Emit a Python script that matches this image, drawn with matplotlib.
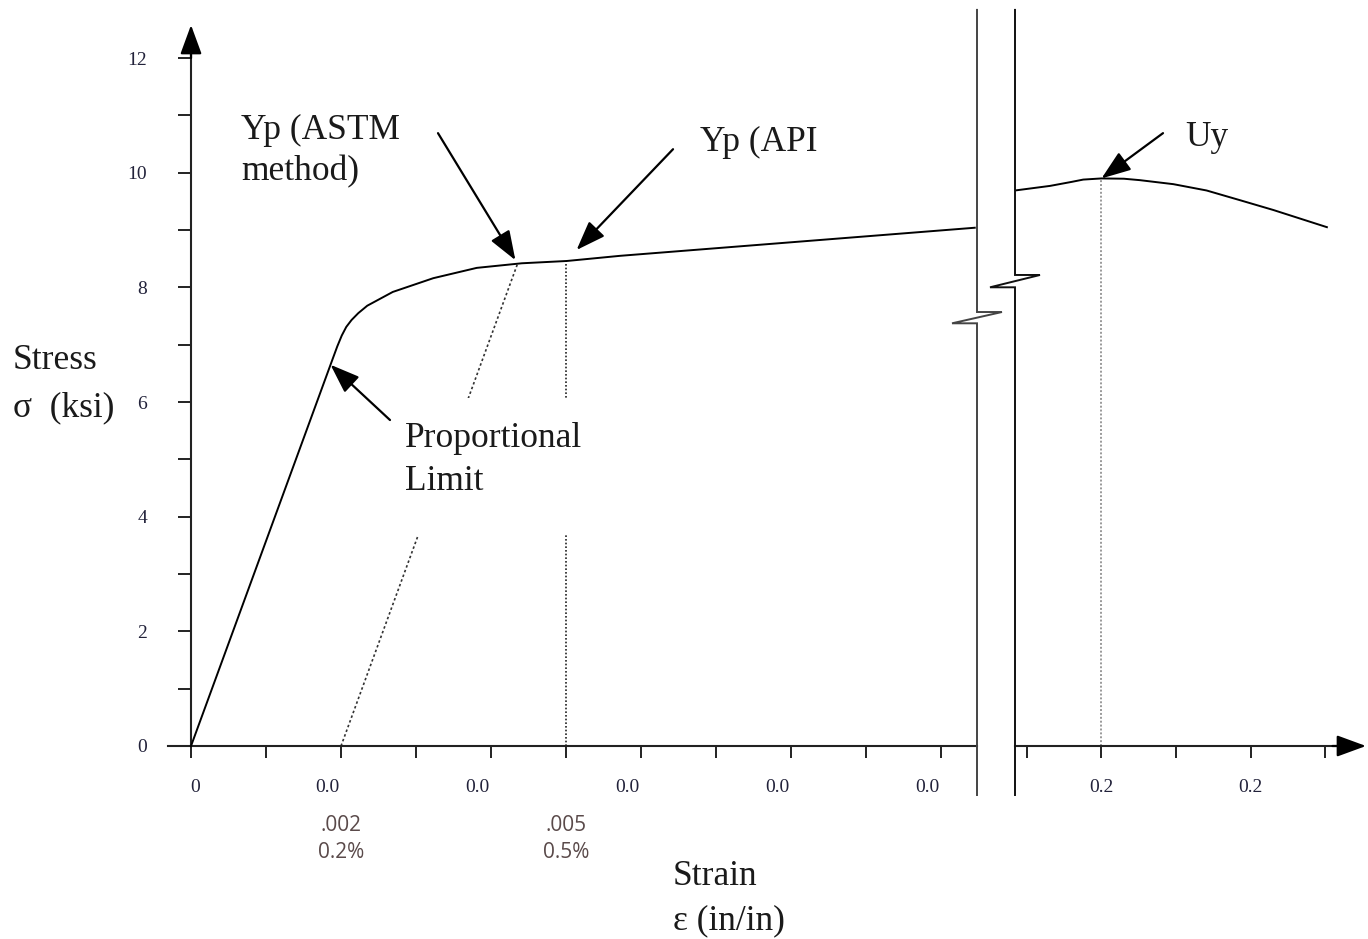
import matplotlib.pyplot as plt
from matplotlib.patches import Rectangle
from matplotlib.transforms import ScaledTranslation
import numpy as np

plt.rcParams["font.family"] = ["Liberation Serif", "DejaVu Serif"]

# stress-strain curve, small strain part (strain in/in, stress ksi)
strain_lo = [0, 0.00186, 0.00195, 0.00201, 0.00207, 0.00214, 0.00223, 0.00235,
             0.00269, 0.00323, 0.00381, 0.00441, 0.00501, 0.00572, 0.01045]
stress_lo = [0, 6.65, 6.97, 7.16, 7.31, 7.43, 7.55, 7.68, 7.92, 8.16, 8.34,
             8.42, 8.46, 8.55, 9.04]

# large strain part, right of the axis break
strain_hi = [0.1768, 0.1862, 0.1920, 0.1951, 0.2000, 0.2060, 0.2103, 0.2193,
             0.2282, 0.2372, 0.2461, 0.2605]
stress_hi = [9.69, 9.77, 9.84, 9.88, 9.90, 9.895, 9.87, 9.80, 9.69, 9.52,
             9.35, 9.05]

# offset strains for the two yield point definitions
offset_strains = [0.002, 0.005]
offset_labels = [".002\n0.2%", ".005\n0.5%"]

y_ticks = list(range(0, 13))
y_labels = ["0", "", "2", "", "4", "", "6", "", "8", "", "10", "", "12"]
x_ticks_lo = [0, 0.001, 0.002, 0.003, 0.004, 0.005, 0.006, 0.007, 0.008, 0.009, 0.010]
x_labels_lo = ["0", "", "0.0", "", "0.0", "", "0.0", "", "0.0", "", "0.0"]
x_ticks_hi = [0.18, 0.20, 0.22, 0.24, 0.26]
x_labels_hi = ["", "0.2", "", "0.2", ""]

W, H = 1368, 939
fig = plt.figure(figsize=(W / 100, H / 100), dpi=100)


def px_box(x0, x1, y_top, y_bot):
    return [x0 / W, 1 - y_bot / H, (x1 - x0) / W, (y_bot - y_top) / H]


ax1 = fig.add_axes(px_box(168, 977, 10, 800))
ax2 = fig.add_axes(px_box(1015, 1368, 10, 800))
ylim = (-0.942, 12.838)
ax1.set_xlim(-0.000307, 0.01048)
ax2.set_xlim(0.17678, 0.27154)
for ax in (ax1, ax2):
    ax.set_ylim(*ylim)
    ax.patch.set_visible(False)
    ax.spines["top"].set_visible(False)
    ax.spines["right"].set_visible(False)
    ax.spines["bottom"].set_position(("data", 0))
    ax.spines["bottom"].set_linewidth(1.5)
    ax.spines["bottom"].set_color("#222222")

ax1.spines["left"].set_position(("data", 0))
ax1.spines["left"].set_linewidth(1.5)
ax1.spines["left"].set_color("#222222")
ax1.spines["left"].set_bounds(0, 12.2)
ax1.spines["bottom"].set_bounds(-0.000307, 0.01048)
ax2.spines["left"].set_visible(False)
ax2.spines["bottom"].set_bounds(0.17678, 0.266)

tick_font = dict(fontsize=14, color="#22223a")
ax1.set_yticks(y_ticks)
ax1.set_yticklabels(y_labels, **tick_font)
ax1.tick_params(axis="y", direction="out", length=9.5, width=1.4, pad=22, color="#222222")
ax1.set_xticks(x_ticks_lo)
ax1.set_xticklabels(x_labels_lo, **tick_font)
ax1.tick_params(axis="x", direction="out", length=8.5, width=1.4, pad=15, color="#222222")
ax2.set_yticks([])
ax2.set_xticks(x_ticks_hi)
ax2.set_xticklabels(x_labels_hi, **tick_font)
ax2.tick_params(axis="x", direction="out", length=8.5, width=1.4, pad=15, color="#222222")

# the source's "0.0" labels sit a little left of their ticks
for lbl in ax1.get_xticklabels():
    dx = 4 if lbl.get_text() == "0" else -14
    lbl.set_transform(lbl.get_transform() + ScaledTranslation(dx / 100, 0, fig.dpi_scale_trans))

arrow = dict(arrowstyle="-|>,head_length=0.9,head_width=0.33", mutation_scale=20,
             lw=1.6, color="black", shrinkA=0, shrinkB=0)

# axis arrows
ax1.annotate("", xy=(0, 12.576), xytext=(0, 12.0), arrowprops=arrow, annotation_clip=False)
ax2.annotate("", xy=(0.2710, 0), xytext=(0.262, 0), arrowprops=arrow, annotation_clip=False)

# curves
ax1.plot(strain_lo, stress_lo, color="black", lw=1.4, zorder=4)
ax2.plot(strain_hi, stress_hi, color="black", lw=1.4, zorder=4)

# 0.2% offset line (ASTM) parallel to the elastic part
modulus = stress_lo[1] / strain_lo[1]
grid = np.linspace(offset_strains[0], strain_lo[-1], 4000)
gap = np.interp(grid, strain_lo, stress_lo) - modulus * (grid - offset_strains[0])
x_astm = grid[np.argmax(gap <= 0)]
y_astm = np.interp(x_astm, strain_lo, stress_lo)
ax1.plot([offset_strains[0], x_astm], [0, y_astm], color="#333333", lw=1.2,
         linestyle=(0, (1.5, 1.5)), zorder=2)

# 0.5% total strain line (API)
y_api = np.interp(offset_strains[1], strain_lo, stress_lo)
ax1.plot([offset_strains[1], offset_strains[1]], [0, y_api], color="#222222", lw=1.2,
         linestyle=(0, (1, 1.2)), zorder=2)

# ultimate strength
i_max = int(np.argmax(stress_hi))
ax2.plot([strain_hi[i_max]] * 2, [0, stress_hi[i_max]], color="#999999", lw=1.4,
         linestyle=(0, (1, 1)), zorder=2)

for x, lab in zip(offset_strains, offset_labels):
    ax1.text(x, -1.62, lab, ha="center", va="center", fontsize=15, color="#5a4a4a",
             family=["Open Sans", "DejaVu Sans"], linespacing=1.4)

# axis break marks
def break_mark(ax, x, dx, y_jog, dy, color):
    xs = [x, x, x + dx, x - dx, x, x]
    ys = [12.84, y_jog, y_jog, y_jog - dy, y_jog - dy, -0.855]
    ax.plot(xs, ys, color=color, lw=1.4, clip_on=False, solid_joinstyle="miter", zorder=5)


break_mark(ax1, 0.01048, 0.000333, 7.57, 0.197, "#444444")
break_mark(ax2, 0.17678, 0.00671, 8.216, 0.215, "#111111")

txt = dict(fontsize=25.5, color="#1a1a1a")

# white knock-out behind the label, as in the source
ax1.add_patch(Rectangle((0.002787, 3.68), 0.00248, 2.39, facecolor="white",
                        edgecolor="none", zorder=2.5))
ax1.text(0.002853, 4.99, "Proportional\nLimit", ha="left", va="center",
         linespacing=1.42, zorder=3, **txt)
ax1.annotate("", xy=(strain_lo[1], stress_lo[1]), xytext=(0.002653, 5.686),
             arrowprops=arrow, zorder=4)

ax1.text(0.000667, 10.37, "Yp (ASTM\nmethod)", ha="left", va="center",
         linespacing=1.33, **txt)
ax1.annotate("", xy=(x_astm, y_astm), xytext=(0.003293, 10.69),
             arrowprops=dict(arrow, shrinkB=3), zorder=4)

ax1.text(0.006787, 10.535, "Yp (API", ha="left", va="center", **txt)
ax1.annotate("", xy=(offset_strains[1], y_api), xytext=(0.006427, 10.41),
             arrowprops=dict(arrow, shrinkB=11), zorder=4)

ax2.text(0.22242, 10.62, "Uy", ha="left", va="center", **txt)
ax2.annotate("", xy=(strain_hi[i_max], stress_hi[i_max]), xytext=(0.21651, 10.69),
             arrowprops=arrow, zorder=4)

fig.text(13 / W, 1 - 384 / H, "Stress\nσ  (ksi)", ha="left", va="center",
         linespacing=1.55, **txt)
fig.text(673 / W, 1 - 899 / H, "Strain\nε (in/in)", ha="left", va="center",
         linespacing=1.45, **txt)

fig.savefig("out.png", dpi=100)
